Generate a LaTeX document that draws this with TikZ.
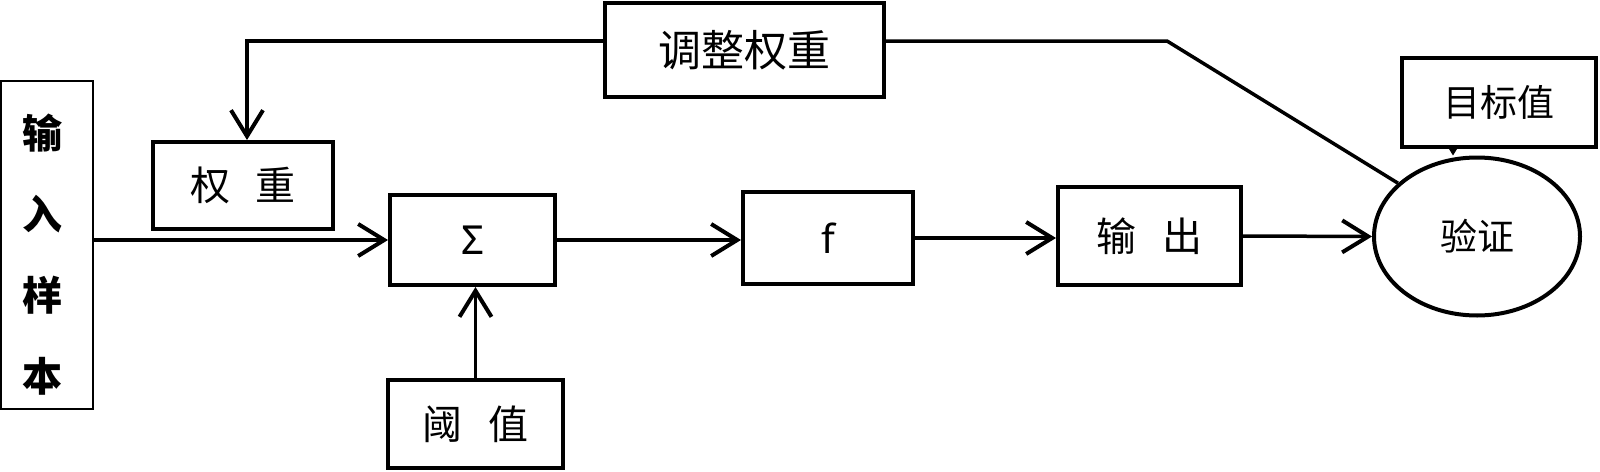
\documentclass[tikz,border=0pt]{standalone}
\usepackage{fontspec}
\newfontfamily\cjk{Noto Sans CJK SC}
\newfontfamily\latin{Noto Sans}
\usetikzlibrary{arrows.meta, shapes.geometric}

\begin{document}
\begin{tikzpicture}[x=1pt, y=-1pt,
    box/.style={draw, line width=4pt, inner sep=0pt},
    flow/.style={line width=3.5pt, -{Straight Barb[length=26pt, width=32pt, line width=4pt]}},
    link/.style={line width=3.5pt},
    lbl/.style={font=\cjk\fontsize{40}{48}\selectfont},
    small/.style={font=\cjk\fontsize{37}{44}\selectfont},
    sym/.style={font=\latin\fontsize{40}{46}\selectfont}]

\useasboundingbox (0,0) rectangle (1600,471);

% input column
\node[box, line width=2pt, minimum width=92pt, minimum height=328pt] (inp) at (47,245) {};
\node[font=\cjk\bfseries\fontsize{40}{81}\selectfont, align=center] (inptxt)
    at ([shift={(-4pt,-10pt)}]inp.center) {输\\入\\样\\本};

% main chain
\node[box, lbl, minimum width=180pt, minimum height=87pt] (wt) at (243,185.5) {权\hspace{0.65em}重};
\node[box, sym, minimum width=165pt, minimum height=90pt] (sum) at (472.5,240) {Σ};
\node[box, sym, minimum width=170pt, minimum height=92pt] (act) at (828,238) {f};
\node[box, lbl, minimum width=183pt, minimum height=98pt] (outp) at (1149.5,236) {输\hspace{0.65em}出};
\node[box, small, ellipse, minimum width=206pt, minimum height=158pt] (chk) at (1477,236.5) {验证};
\node[box, lbl, minimum width=175pt, minimum height=88pt] (thr) at (475.5,424) {阈\hspace{0.65em}值};

% top boxes
\node[box, font=\cjk\fontsize{43}{50}\selectfont, minimum width=279pt, minimum height=94pt] (adj) at (744.5,50) {调整权重};
\node[box, small, minimum width=194pt, minimum height=89pt] (tgt) at (1499,102.5) {目标值};

\coordinate (bend) at (1167,41);

\draw[flow] (inp.east |- sum.west) -- (sum.west);
\draw[flow] (sum.east) -- (sum.east -| act.west);
\draw[flow] (act.east) -- (act.east -| outp.west);
\draw[flow] (outp.east) -- (chk.west);
\draw[flow] (thr.north) -- (thr.north |- sum.south);

% feedback
\draw[flow] (adj.west |- bend) -| ([xshift=4pt]wt.north);
\draw[link] (adj.east |- bend) -- (bend) -- (chk.146);
\draw[line width=1pt, -{Triangle[length=10pt, width=12pt]}]
    ([xshift=-46pt]tgt.south) -- ([xshift=-46pt]tgt.south |- chk.north);

\end{tikzpicture}
\end{document}
